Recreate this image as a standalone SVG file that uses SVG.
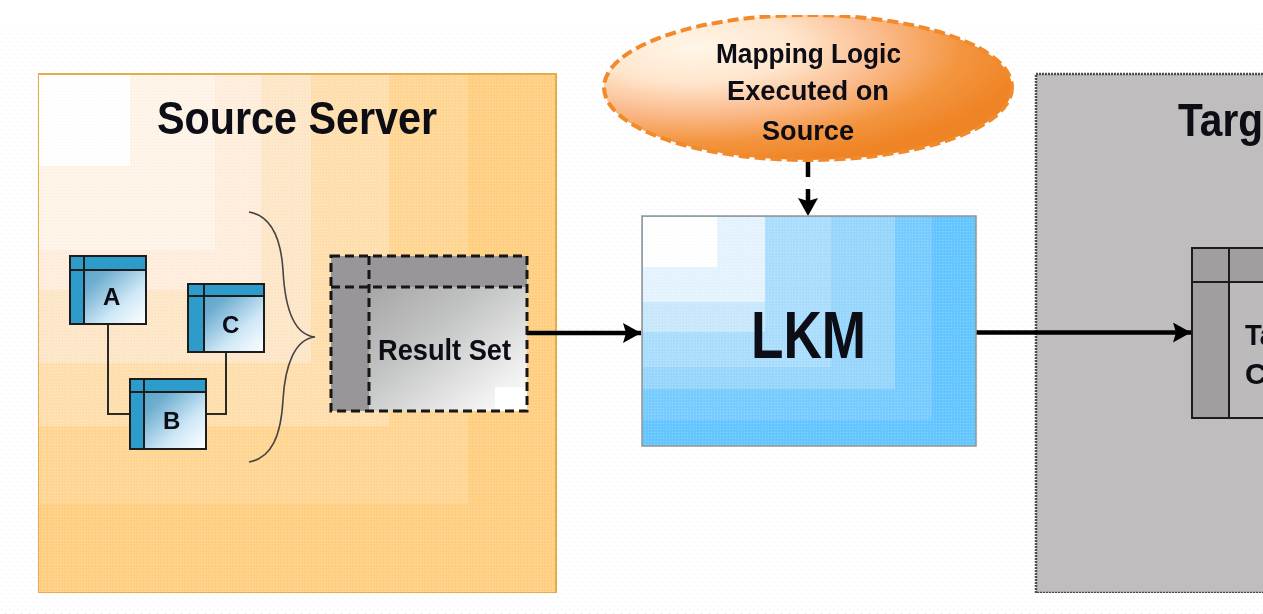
<svg xmlns="http://www.w3.org/2000/svg" width="1263" height="614" viewBox="0 0 1263 614">
<style>
.t{font-family:"Liberation Sans",Arial,sans-serif;font-weight:700;fill:#080812;text-anchor:start}
.tb{stroke:#1a1a1a;stroke-width:2;fill:none}
.hd{fill:#2f9ccb}
.rs{stroke:#151515;stroke-width:3;stroke-dasharray:9 5;fill:none}
.cn{fill:none;stroke:#2a2a2a;stroke-width:2}
.ar{fill:none;stroke:#000;stroke-width:4.5}
</style>
<defs>
<pattern id="dots" width="8" height="8" patternUnits="userSpaceOnUse">
<circle cx="1.5" cy="1.5" r=".7" fill="#ffb8e6" opacity=".45"/>
<circle cx="5.5" cy="5.5" r=".7" fill="#a8d0ff" opacity=".4"/>
</pattern>
<pattern id="fine" width="3" height="3" patternUnits="userSpaceOnUse">
<rect x="0" y="0" width="1" height="1" fill="#fff" opacity=".22"/>
<rect x="2" y="1" width="1" height="1" fill="#000" opacity=".025"/>
</pattern>
<linearGradient id="tbl" x1="0" y1="0" x2="1" y2="1">
<stop offset=".02" stop-color="#4a9cc6"/>
<stop offset=".35" stop-color="#6faed0"/>
<stop offset=".7" stop-color="#cfe8f7"/>
<stop offset="1" stop-color="#ffffff"/>
</linearGradient>
<linearGradient id="rsg" x1="0" y1="0" x2="1" y2="1">
<stop offset=".05" stop-color="#9a9899"/>
<stop offset=".5" stop-color="#c2c3c3"/>
<stop offset=".85" stop-color="#f0f0f0"/>
<stop offset="1" stop-color="#fdfdfd"/>
</linearGradient>
<radialGradient id="ell" cx=".22" cy=".22" r=".82" gradientUnits="objectBoundingBox">
<stop offset="0" stop-color="#fff6e8"/>
<stop offset=".3" stop-color="#ffe6cd"/>
<stop offset=".55" stop-color="#fbbd90"/>
<stop offset=".8" stop-color="#f3953f"/>
<stop offset="1" stop-color="#ef8426"/>
</radialGradient>
<marker id="ah" markerUnits="userSpaceOnUse" markerWidth="20" markerHeight="22" refX="18" refY="10" orient="auto">
<path d="M0,0 L18,10 L0,20 L3,10 Z" fill="#000"/>
</marker>
<filter id="soft" x="0" y="0" width="1" height="1"><feGaussianBlur stdDeviation=".55"/></filter>
</defs>
<rect width="1263" height="614" fill="#fff"/>
<rect y="26" width="1263" height="588" fill="url(#dots)"/>
<g filter="url(#soft)">
<g id="source-server">
<rect x="38" y="74" width="518" height="519" fill="#ffd083"/>
<rect x="39" y="75" width="429" height="429" fill="#ffd693"/>
<rect x="39" y="75" width="350" height="351" fill="#ffdfae"/>
<rect x="39" y="75" width="272" height="288" fill="#fee6c8"/>
<rect x="39" y="75" width="222" height="215" fill="#ffeedd"/>
<rect x="39" y="75" width="176" height="175" fill="#fff4e8"/>
<rect x="39" y="75" width="91" height="91" fill="#fff"/>
<rect x="38" y="74" width="518" height="519" fill="url(#fine)"/>
<rect x="38" y="74" width="518" height="519" fill="none" stroke="#e3ad4c" stroke-width="2"/>
<text class="t" x="157" y="134" font-size="47" textLength="280" lengthAdjust="spacingAndGlyphs">Source Server</text>
</g>
<g id="target-server">
<rect x="1036" y="74" width="240" height="519" fill="#bfbdbd" stroke="#4d4d4d" stroke-width="2.5" stroke-dasharray="2 1"/>
<text class="t" x="1178" y="136" font-size="47" textLength="85" lengthAdjust="spacingAndGlyphs">Targ</text>
</g>
<g id="connectors">
<path class="cn" d="M108,324V414H130"/>
<path class="cn" d="M226,352V414H206"/>
<path class="ar" d="M527,333H641" marker-end="url(#ah)"/>
<path class="ar" d="M976,332.500H1191" marker-end="url(#ah)"/>
<path class="ar" d="M808,160V216" stroke-width="5.500" stroke-dasharray="17 12" marker-end="url(#ah)"/>
<path d="M249,212C272,216 281,240 283,270C285,310 295,335 315,337C295,339 285,365 283,400C281,435 272,458 249,462" fill="none" stroke="#444" stroke-width="1.600"/>
</g>
<g id="table-a">
<rect x="70" y="256" width="76" height="68" fill="url(#tbl)"/>
<path class="hd" d="M70,256H146V270H84V324H70Z"/>
<rect class="tb" x="70" y="256" width="76" height="68"/>
<path class="tb" d="M84,256V324M70,270H146"/>
<text class="t" x="103" y="305" font-size="24">A</text>
</g>
<g id="table-c">
<rect x="188" y="284" width="76" height="68" fill="url(#tbl)"/>
<path class="hd" d="M188,284H264V296H204V352H188Z"/>
<rect class="tb" x="188" y="284" width="76" height="68"/>
<path class="tb" d="M204,284V352M188,296H264"/>
<text class="t" x="222" y="333" font-size="24">C</text>
</g>
<g id="table-b">
<rect x="130" y="379" width="76" height="70" fill="url(#tbl)"/>
<path class="hd" d="M130,379H206V392H144V449H130Z"/>
<rect class="tb" x="130" y="379" width="76" height="70"/>
<path class="tb" d="M144,379V449M130,392H206"/>
<text class="t" x="163" y="429" font-size="24">B</text>
</g>
<g id="result-set">
<rect x="331" y="256" width="196" height="155" fill="url(#rsg)"/>
<path d="M331,256H527V287H369V411H331Z" fill="#989698"/>
<rect x="495" y="387" width="32" height="24" fill="#fff"/>
<rect class="rs" x="331" y="256" width="196" height="155"/>
<path class="rs" d="M369,256V411M331,287H527"/>
<text class="t" x="378" y="360" font-size="29" textLength="133" lengthAdjust="spacingAndGlyphs">Result Set</text>
</g>
<g id="lkm">
<rect x="642" y="216" width="334" height="230" fill="#66c6ff"/>
<rect x="643" y="217" width="289" height="203" fill="#78ccfe"/>
<rect x="643" y="217" width="252" height="172" fill="#98d6fb"/>
<rect x="643" y="217" width="188" height="150" fill="#aadefc"/>
<rect x="643" y="217" width="122" height="115" fill="#c9e8fb"/>
<rect x="643" y="217" width="122" height="85" fill="#e4f3fd"/>
<rect x="643" y="217" width="74" height="50" fill="#fff"/>
<rect x="642" y="216" width="334" height="230" fill="url(#fine)"/>
<rect x="642" y="216" width="334" height="230" fill="none" stroke="#959595" stroke-width="1.500"/>
<text class="t" x="751" y="358" font-size="67" textLength="115" lengthAdjust="spacingAndGlyphs">LKM</text>
</g>
<g id="mapping-logic">
<ellipse cx="808" cy="87.500" rx="204" ry="72.500" fill="url(#ell)" stroke="#f08a2c" stroke-width="4" stroke-dasharray="11 5"/>
<text class="t" x="716" y="63" font-size="27" textLength="185" lengthAdjust="spacingAndGlyphs">Mapping Logic</text>
<text class="t" x="727" y="100" font-size="27" textLength="162" lengthAdjust="spacingAndGlyphs">Executed on</text>
<text class="t" x="762" y="140" font-size="27" textLength="92" lengthAdjust="spacingAndGlyphs">Source</text>
</g>
<g id="target-table">
<rect x="1192" y="248" width="90" height="170" fill="#bcbaba"/>
<path d="M1192,248H1282V282H1229V418H1192Z" fill="#a09e9e"/>
<rect class="tb" x="1192" y="248" width="90" height="170"/>
<path class="tb" d="M1229,248V418M1192,282H1282"/>
<text class="t" x="1245" y="345" font-size="30" textLength="30" lengthAdjust="spacingAndGlyphs">Ta</text>
<text class="t" x="1245" y="384" font-size="30">C</text>
</g>
</g>
</svg>
